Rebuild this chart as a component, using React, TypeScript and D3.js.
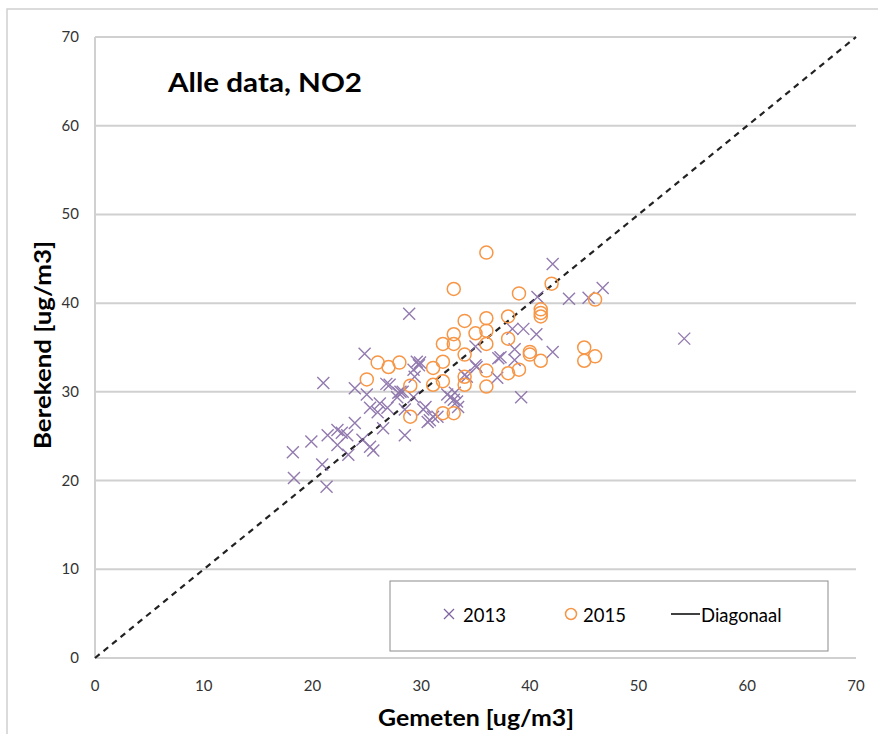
import React from "react";
import * as d3 from "d3";

const W = 878;
const H = 734;

const xTicks = [0, 10, 20, 30, 40, 50, 60, 70];
const yTicks = [0, 10, 20, 30, 40, 50, 60, 70];

// 2013 series: [gemeten, berekend]
const gemeten2013 = [
  18.2, 18.3, 19.9, 20.9, 21.3, 21.0, 21.4, 22.3, 22.7, 23.2, 23.3, 22.3, 23.9, 24.6, 25.3, 25.6,
  24.8, 23.9, 25.0, 25.3, 26.2, 26.0, 26.9, 26.5, 26.8, 27.9, 27.8, 28.5, 28.5, 28.9, 29.6, 29.4,
  29.9, 29.3, 30.2, 31.1, 30.6, 28.3, 29.3, 30.4, 30.8, 31.5, 27.1, 28.1, 32.4, 33.0, 32.7, 33.3,
  33.1, 34.0, 34.2, 35.0, 35.1, 35.0, 37.0, 37.1, 37.3, 38.4, 39.4, 40.6, 38.6, 38.6, 42.1, 39.2,
  40.7, 42.1, 43.6, 45.4, 46.7, 54.2, 33.4, 29.8,
];
const berekend2013 = [
  23.2, 20.3, 24.4, 21.8, 19.3, 31.0, 25.1, 25.7, 25.4, 25.1, 22.9, 24.0, 26.5, 24.6, 23.8, 23.4,
  34.3, 30.4, 29.7, 28.2, 28.7, 27.7, 28.2, 25.9, 30.9, 29.9, 29.4, 28.0, 25.1, 38.8, 33.4, 31.7,
  33.3, 29.4, 28.0, 27.2, 26.6, 30.0, 32.5, 28.3, 26.8, 27.2, 30.8, 30.0, 29.7, 29.1, 29.4, 28.9,
  29.9, 31.9, 31.7, 33.0, 32.8, 35.1, 31.6, 33.8, 33.9, 37.1, 37.1, 36.5, 34.8, 33.6, 34.5, 29.4,
  40.7, 44.4, 40.5, 40.6, 41.7, 36.0, 28.3, 33.0,
];

// 2015 series
const gemeten2015 = [
  25.0, 26.0, 27.0, 28.0, 29.0, 29.0, 31.1, 31.1, 32.0, 32.0, 32.0, 32.0, 33.0, 33.0, 33.0, 33.0,
  34.0, 34.0, 34.0, 34.0, 35.0, 36.0, 36.0, 36.0, 36.0, 36.0, 36.0, 38.0, 38.0, 38.0, 39.0, 39.0,
  40.0, 40.0, 41.0, 41.0, 41.0, 41.0, 42.0, 45.0, 45.0, 46.0, 46.0,
];
const berekend2015 = [
  31.4, 33.3, 32.8, 33.3, 30.7, 27.2, 32.7, 30.8, 35.4, 33.4, 31.2, 27.6, 41.6, 36.5, 35.4, 27.6,
  38.0, 34.2, 31.7, 30.8, 36.6, 45.7, 38.3, 36.9, 35.4, 32.4, 30.6, 38.5, 36.0, 32.1, 41.1, 32.5,
  34.5, 34.2, 39.3, 38.9, 38.5, 33.5, 42.2, 35.0, 33.5, 40.4, 34.0,
];

const diagonal = [0, 70];

const PURPLE = "#8064a2";
const ORANGE = "#f79646";
const GRID = "#d0d0d0";
const FONT = "Lato, 'Open Sans', sans-serif";

export default function App() {
  const x = d3.scaleLinear().domain([0, 70]).range([95, 856]);
  const y = d3.scaleLinear().domain([0, 70]).range([658, 37]);
  const line = d3
    .line<number>()
    .x((d) => x(d))
    .y((d) => y(d));

  const xs = 6;

  return (
    <svg
      width={W}
      height={H}
      style={{ position: "absolute", left: 0, top: 0, background: "#fff" }}
      fontFamily={FONT}
    >
      <rect x={7} y={9} width={W} height={H} fill="#fff" stroke="#d0d0d0" strokeWidth={1.5} />
      {/* gridlines */}
      {yTicks.map((t) => (
        <line key={"g" + t} x1={x(0)} x2={x(70)} y1={y(t)} y2={y(t)} stroke={GRID} strokeWidth={2} />
      ))}
      <line x1={x(0)} x2={x(0)} y1={y(0)} y2={y(70)} stroke={GRID} strokeWidth={2} />
      {/* tick labels */}
      {yTicks.map((t) => (
        <text key={"yt" + t} x={79} y={y(t) + 5} textAnchor="end" fontSize={15} fill="#333">
          {t}
        </text>
      ))}
      {xTicks.map((t) => (
        <text key={"xt" + t} x={x(t)} y={691} textAnchor="middle" fontSize={15} fill="#333">
          {t}
        </text>
      ))}
      {/* axis titles */}
      <text x={476} y={726} textAnchor="middle" fontSize={23} fontWeight="bold" fill="#000"
        textLength={196} lengthAdjust="spacingAndGlyphs">
        Gemeten [ug/m3]
      </text>
      <text
        transform={`translate(51,345) rotate(-90)`}
        textAnchor="middle"
        fontSize={23}
        fontWeight="bold"
        fill="#000"
        textLength={208}
        lengthAdjust="spacingAndGlyphs"
      >
        Berekend [ug/m3]
      </text>
      <text x={168} y={92} fontSize={26} fontWeight="bold" fill="#000"
        textLength={194} lengthAdjust="spacingAndGlyphs">
        Alle data, NO2
      </text>
      {/* diagonal */}
      <path d={line(diagonal) || ""} stroke="#222" strokeWidth={2.2} strokeDasharray="6,5" fill="none" />
      {/* 2013 */}
      <g stroke={PURPLE} strokeWidth={1.4} opacity={0.85}>
        {gemeten2013.map((g, i) => {
          const cx = x(g);
          const cy = y(berekend2013[i]);
          return (
            <path
              key={"a" + i}
              d={`M${cx - xs},${cy - xs}L${cx + xs},${cy + xs}M${cx - xs},${cy + xs}L${cx + xs},${cy - xs}`}
            />
          );
        })}
      </g>
      {/* 2015 */}
      <g stroke={ORANGE} strokeWidth={1.5} fill="none">
        {gemeten2015.map((g, i) => (
          <circle key={"b" + i} cx={x(g)} cy={y(berekend2015[i])} r={6.5} />
        ))}
      </g>
      {/* legend */}
      <rect x={390} y={581} width={438} height={70} fill="#fff" stroke="#8c8c8c" strokeWidth={1} />
      <path d="M444,609L454,619M444,619L454,609" stroke={PURPLE} strokeWidth={1.3} />
      <text x={463} y={622} fontSize={18.5} fill="#000">2013</text>
      <circle cx={571} cy={614} r={5.5} stroke={ORANGE} strokeWidth={1.5} fill="none" />
      <text x={583} y={622} fontSize={18.5} fill="#000">2015</text>
      <line x1={671} x2={700} y1={614} y2={614} stroke="#000" strokeWidth={1.5} />
      <text x={701} y={622} fontSize={18.5} fill="#000">Diagonaal</text>
    </svg>
  );
}
